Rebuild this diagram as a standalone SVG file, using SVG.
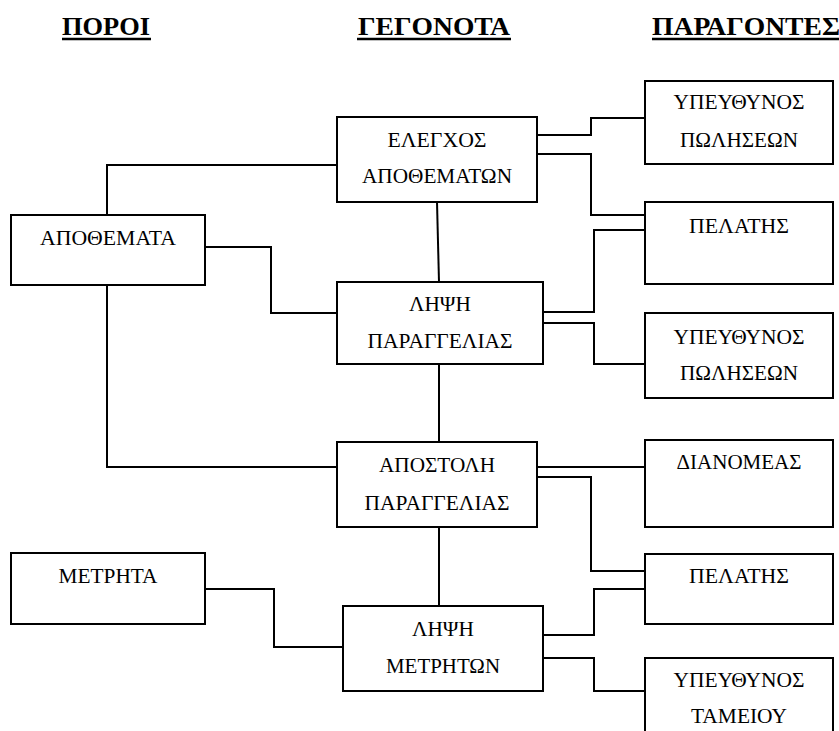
<svg xmlns="http://www.w3.org/2000/svg" width="839" height="731" viewBox="0 0 839 731">
<style>
.box{fill:#fff;stroke:#000;stroke-width:2}
.t{font-family:"Liberation Serif","Liberation Sans",serif;font-size:20px;fill:#000;text-anchor:middle}
.h{font-family:"Liberation Serif","Liberation Sans",serif;font-size:25px;font-weight:bold;fill:#000}
.c{fill:none;stroke:#000;stroke-width:2}
.ul{stroke:#000;stroke-width:2.5}
</style>
<rect width="839" height="731" fill="#fff"/>
<g id="headers">
<text class="h" x="62" y="35" textLength="88" lengthAdjust="spacingAndGlyphs">ΠΟΡΟΙ</text>
<line class="ul" x1="62" y1="39" x2="151" y2="39"/>
<text class="h" x="358" y="35" textLength="152" lengthAdjust="spacingAndGlyphs">ΓΕΓΟΝΟΤΑ</text>
<line class="ul" x1="357" y1="39" x2="511" y2="39"/>
<text class="h" x="652" y="35" textLength="188" lengthAdjust="spacingAndGlyphs">ΠΑΡΑΓΟΝΤΕΣ</text>
<line class="ul" x1="652" y1="39" x2="845" y2="39"/>
</g>
<g id="connectors">
<polyline class="c" points="107,215 107,165 337,165"/>
<polyline class="c" points="205,247 271,247 271,313 337,313"/>
<polyline class="c" points="107,285 107,467 337,467"/>
<polyline class="c" points="205,589 274,589 274,647 343,647"/>
<line class="c" x1="437" y1="202" x2="439" y2="282"/>
<line class="c" x1="439" y1="364" x2="439" y2="442"/>
<line class="c" x1="439" y1="527" x2="439" y2="606"/>
<polyline class="c" points="537,135 591,135 591,118 645,118"/>
<polyline class="c" points="537,154 591,154 591,215 645,215"/>
<polyline class="c" points="543,312 594,312 594,230 645,230"/>
<polyline class="c" points="543,323 594,323 594,364 645,364"/>
<line class="c" x1="537" y1="467" x2="645" y2="467"/>
<polyline class="c" points="537,477 591,477 591,571 645,571"/>
<polyline class="c" points="543,635 594,635 594,589 645,589"/>
<polyline class="c" points="543,658 594,658 594,691 645,691"/>
</g>
<g id="apothemata"><rect class="box" x="11" y="215" width="194" height="70"/><text class="t" x="108" y="245" textLength="136" lengthAdjust="spacingAndGlyphs">ΑΠΟΘΕΜΑΤΑ</text></g>
<g id="metrhta"><rect class="box" x="11" y="553" width="194" height="71"/><text class="t" x="108" y="583" textLength="99" lengthAdjust="spacingAndGlyphs">ΜΕΤΡΗΤΑ</text></g>
<g id="elegxos"><rect class="box" x="337" y="117" width="200" height="85"/><text class="t" x="437" y="147" textLength="99" lengthAdjust="spacingAndGlyphs">ΕΛΕΓΧΟΣ</text><text class="t" x="437" y="183" textLength="150" lengthAdjust="spacingAndGlyphs">ΑΠΟΘΕΜΑΤΩΝ</text></g>
<g id="lipsi-parag"><rect class="box" x="337" y="282" width="206" height="82"/><text class="t" x="440" y="311" textLength="62" lengthAdjust="spacingAndGlyphs">ΛΗΨΗ</text><text class="t" x="440" y="348" textLength="145" lengthAdjust="spacingAndGlyphs">ΠΑΡΑΓΓΕΛΙΑΣ</text></g>
<g id="apostoli"><rect class="box" x="337" y="442" width="200" height="85"/><text class="t" x="437" y="472" textLength="116" lengthAdjust="spacingAndGlyphs">ΑΠΟΣΤΟΛΗ</text><text class="t" x="437" y="510" textLength="145" lengthAdjust="spacingAndGlyphs">ΠΑΡΑΓΓΕΛΙΑΣ</text></g>
<g id="lipsi-metr"><rect class="box" x="343" y="606" width="200" height="85"/><text class="t" x="443" y="636" textLength="62" lengthAdjust="spacingAndGlyphs">ΛΗΨΗ</text><text class="t" x="443" y="673" textLength="114" lengthAdjust="spacingAndGlyphs">ΜΕΤΡΗΤΩΝ</text></g>
<g id="ypeuth-pol1"><rect class="box" x="645" y="81" width="188" height="83"/><text class="t" x="739" y="109" textLength="131" lengthAdjust="spacingAndGlyphs">ΥΠΕΥΘΥΝΟΣ</text><text class="t" x="739" y="147" textLength="118" lengthAdjust="spacingAndGlyphs">ΠΩΛΗΣΕΩΝ</text></g>
<g id="pelatis1"><rect class="box" x="645" y="202" width="188" height="82"/><text class="t" x="739" y="233" textLength="100" lengthAdjust="spacingAndGlyphs">ΠΕΛΑΤΗΣ</text></g>
<g id="ypeuth-pol2"><rect class="box" x="645" y="313" width="188" height="85"/><text class="t" x="739" y="344" textLength="131" lengthAdjust="spacingAndGlyphs">ΥΠΕΥΘΥΝΟΣ</text><text class="t" x="739" y="380" textLength="118" lengthAdjust="spacingAndGlyphs">ΠΩΛΗΣΕΩΝ</text></g>
<g id="dianomeas"><rect class="box" x="645" y="440" width="188" height="87"/><text class="t" x="739" y="469" textLength="125" lengthAdjust="spacingAndGlyphs">ΔΙΑΝΟΜΕΑΣ</text></g>
<g id="pelatis2"><rect class="box" x="645" y="554" width="188" height="70"/><text class="t" x="739" y="583" textLength="100" lengthAdjust="spacingAndGlyphs">ΠΕΛΑΤΗΣ</text></g>
<g id="ypeuth-tam"><rect class="box" x="645" y="658" width="188" height="90"/><text class="t" x="739" y="687" textLength="131" lengthAdjust="spacingAndGlyphs">ΥΠΕΥΘΥΝΟΣ</text><text class="t" x="739" y="723" textLength="96" lengthAdjust="spacingAndGlyphs">ΤΑΜΕΙΟΥ</text></g>
</svg>
